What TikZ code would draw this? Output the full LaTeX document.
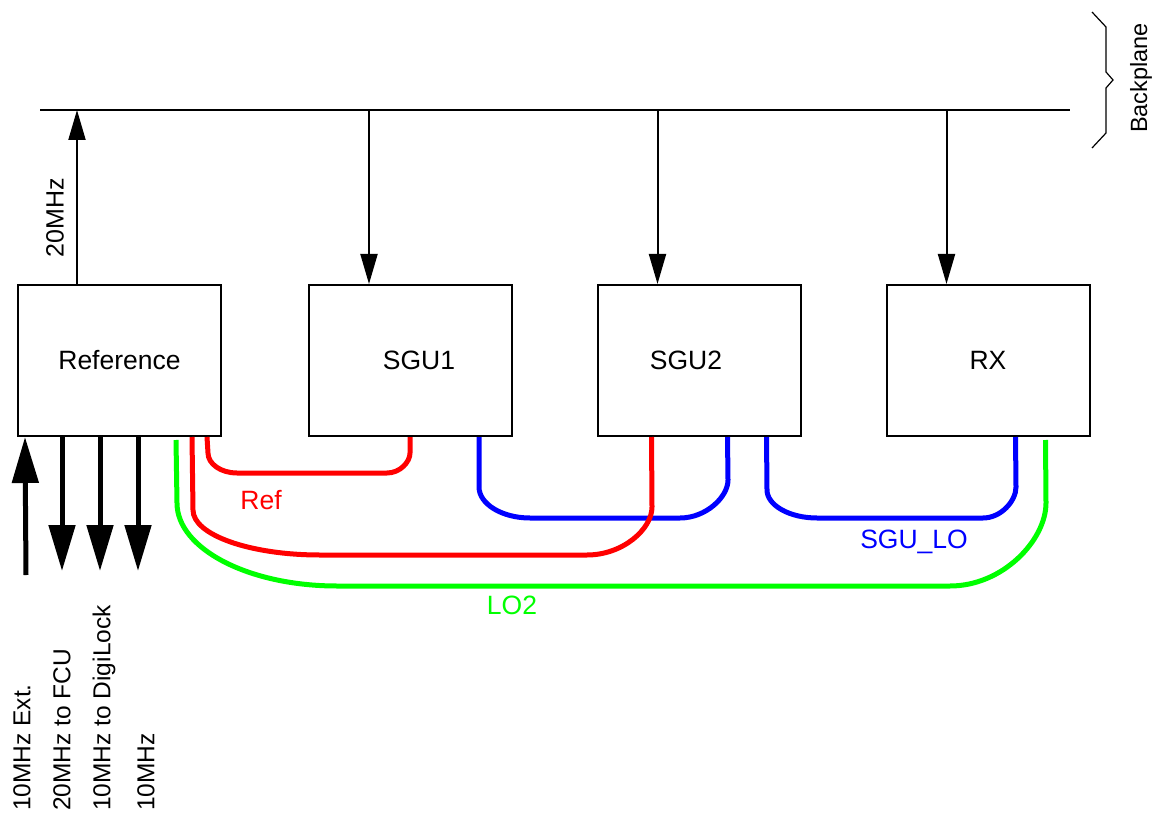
\documentclass[tikz,border=0pt]{standalone}
\usepackage{fontspec}
\setmainfont{Liberation Sans}
\usetikzlibrary{arrows.meta,calc}
\definecolor{cred}{RGB}{255,0,0}
\definecolor{cblue}{RGB}{0,0,255}
\definecolor{cgreen}{RGB}{0,255,0}
\tikzset{
  unitbox/.style={draw, line width=2pt, minimum width=203pt, minimum height=151pt, inner sep=0pt, font=\fontsize{26.5}{30}\selectfont},
  thinline/.style={line width=2pt},
  thinarrow/.style={line width=2pt, -{Triangle[length=30pt,width=17pt]}},
  thickarrow/.style={line width=5pt, -{Triangle[length=46pt,width=26pt]}},
  cable/.style={line width=5pt},
  lbl/.style={inner sep=0pt, font=\fontsize{24.5}{28}\selectfont},
  clbl/.style={inner sep=0pt, font=\fontsize{26.5}{30}\selectfont},
}
\begin{document}
\begin{tikzpicture}[x=1pt,y=-1pt]
\useasboundingbox (0,0) rectangle (1164,818);
% boxes
\node[unitbox] (ref) at (119.5,360.5) {Reference};
\node[unitbox] (sgu1) at (410.5,360.5) {\hspace*{17pt}SGU1};
\node[unitbox] (sgu2) at (699,360.5) {SGU2\hspace*{26pt}};
\node[unitbox] (rx) at (988,360.5) {RX};
% backplane
\coordinate (bpL) at (40,110);
\coordinate (bpR) at (1070,110);
\draw[thinline] (bpL) -- (bpR);
\coordinate (r1) at ($(ref.north west)+(60,0)$);
\draw[thinarrow] (r1) -- (r1 |- bpL);
\node[lbl, rotate=90, font=\fontsize{25}{28}\selectfont] (l20) at (55,218) {20MHz};
\foreach \n in {sgu1,sgu2,rx}{
  \coordinate (t\n) at ($(\n.north west)+(61,0)$);
  \draw[thinarrow] (t\n |- bpL) -- (t\n);
}
% brace
\draw[line width=1.2pt] (1092,12) -- (1106,27) -- (1106,72) -- (1113,80) -- (1106,88) -- (1106,133) -- (1092,148);
\node[lbl, rotate=90, font=\fontsize{23.5}{28}\selectfont] (bp) at (1141,78) {Backplane};
% reference I/O arrows
\coordinate (a1) at ($(ref.south west)+(8,0)$);
\coordinate (a2) at ($(ref.south west)+(45,0)$);
\coordinate (a3) at ($(ref.south west)+(83,0)$);
\coordinate (a4) at ($(ref.south west)+(121,0)$);
\coordinate (a1e) at (26,575);
\draw[thickarrow] (a1e) -- (a1);
\draw[thickarrow] (a2) -- ++(0,134);
\draw[thickarrow] (a3) -- ++(0,134);
\draw[thickarrow] (a4) -- ++(0,134);
\node[lbl, rotate=90, anchor=west] (o1) at (22,811) {10MHz Ext.};
\node[lbl, rotate=90, anchor=west] (o2) at (62,811) {20MHz to FCU};
\node[lbl, rotate=90, anchor=west] (o3) at (104,811) {10MHz to DigiLock};
\node[lbl, rotate=90, anchor=west] (o4) at (146,811) {10MHz};
% blue cables
\draw[cable, cblue] ($(sgu1.south west)+(171,0)$) -- (479,487) .. controls (479,504) and (502,518) .. (530,518) -- (680,518) .. controls (706,518) and (728,497) .. (728,480) -- ($(sgu2.south west)+(131,0)$);
\draw[cable, cblue] ($(sgu2.south west)+(170,0)$) -- (767,490) .. controls (767,505) and (789,518) .. (817,518) -- (983,518) .. controls (1001,518) and (1016,501) .. (1016,487) -- ($(rx.south west)+(130,0)$);
% red cables
\draw[cable, cred] ($(ref.south west)+(190,0)$) -- (208,453) .. controls (208,464) and (221,473) .. (237,473) -- (387,473) .. controls (400,473) and (410,462) .. (410,453) -- ($(sgu1.south west)+(102,0)$);
\draw[cable, cred] ($(ref.south west)+(175,0)$) -- (193,510) .. controls (193,535) and (250,555) .. (320,555) -- (587,555) .. controls (623,555) and (652,529) .. (652,507) -- ($(sgu2.south west)+(55,0)$);
% green cable
\draw[cable, cgreen] ($(ref.south west)+(159,3)$) -- (177,503) .. controls (177,549) and (249,586) .. (337,586) -- (950,586) .. controls (1003,586) and (1046,540) .. (1046,503) -- ($(rx.south west)+(160,3)$);
% cable labels
\node[clbl, text=cred] (lref) at (261,500) {Ref};
\node[clbl, text=cblue] (llo) at (914,542) {SGU\_LO};
\node[clbl, text=cgreen] (llo2) at (512,605) {LO2};
\end{tikzpicture}
\end{document}
